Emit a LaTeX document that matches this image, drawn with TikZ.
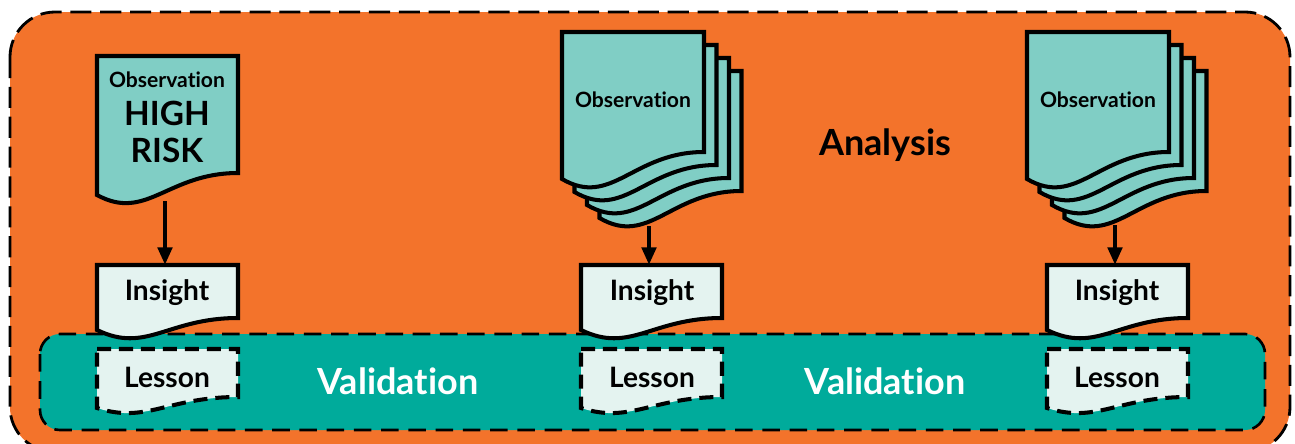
\documentclass[tikz,border=0pt]{standalone}
\usepackage{fontspec}
\setmainfont[Ligatures=NoCommon]{Lato}
\usetikzlibrary{arrows.meta}

\definecolor{analyse}{RGB}{243,115,43}
\definecolor{validierung}{RGB}{0,171,155}
\definecolor{beobachtung}{RGB}{128,206,197}
\definecolor{einsicht}{RGB}{228,243,240}

\begin{document}
\begin{tikzpicture}[x=0.02cm,y=-0.02cm,
	umriss/.style={line width=2.3pt,draw=black},
	gestrichelt/.style={line width=2.3pt,draw=black,dash pattern=on 8pt off 4.5pt},
	pfeil/.style={line width=2.6pt,-{Triangle[length=10pt,width=8pt]}},
	klein/.style={font=\bfseries\fontsize{12}{14}\selectfont},
	gross/.style={font=\bfseries\fontsize{19}{21.5}\selectfont,align=center},
	mittel/.style={font=\bfseries\fontsize{16}{19}\selectfont},
	titel/.style={font=\bfseries\fontsize{20.5}{24}\selectfont}]

\def\blatt#1#2#3#4#5#6#7{
	\draw[#1] (#2,#3) -- (#2+#4,#3) -- (#2+#4,#6)
		.. controls (#2+0.5*#4,#6) and (#2+0.35*#4,#5+#7) .. (#2,#5) -- cycle;
}

\def\stapel#1{
	\foreach \i in {3,2,1,0}{
		\blatt{umriss,fill=beobachtung}{#1+12.5*\i}{32+13*\i}{142}{179+13*\i}{152+13*\i}{29}
	}
}

\useasboundingbox (0,0) rectangle (1295,443);

\draw[fill=analyse,line width=1.6pt,dash pattern=on 12pt off 5pt,rounded corners=0.9cm]
	(10,12) rectangle (1290,452);
\draw[fill=validierung,line width=1.5pt,dash pattern=on 10pt off 5.5pt,rounded corners=0.4cm]
	(40,334) rectangle (1265,430);

\blatt{umriss,fill=beobachtung}{97}{56}{141}{195}{173}{27}
\stapel{562}
\stapel{1027}

\foreach \x in {97,581,1047}{
	\blatt{umriss,fill=einsicht}{\x}{265}{141}{330}{318}{24}
	\blatt{gestrichelt,fill=einsicht}{\x}{349}{141}{408}{397}{16}
}

\node[klein] (beo1) at (167,80) {Observation};
\node[gross] (risiko) at (167,132) {HIGH\\RISK};
\node[klein] (beo2) at (633,100) {Observation};
\node[klein] (beo3) at (1098,100) {Observation};

\node[mittel] (ein1) at (167,293) {Insight};
\node[mittel] (ein2) at (652,293) {Insight};
\node[mittel] (ein3) at (1117,293) {Insight};

\node[mittel] (lek1) at (167,377) {Lesson};
\node[mittel] (lek2) at (652,377) {Lesson};
\node[mittel] (lek3) at (1117,377) {Lesson};

\node[titel] (analyse) at (885,145) {Analysis};
\node[titel,white] (val1) at (398,381) {Validation};
\node[titel,white] (val2) at (885,381) {Validation};

\coordinate (aus1) at (165,201);
\coordinate (aus2) at (649,226);
\coordinate (aus3) at (1115,225);
\coordinate (zu1) at (165,265);
\coordinate (zu2) at (649,265);
\coordinate (zu3) at (1115,265);

\draw[pfeil] (aus1) -- (zu1);
\draw[pfeil] (aus2) -- (zu2);
\draw[pfeil] (aus3) -- (zu3);

\end{tikzpicture}
\end{document}
